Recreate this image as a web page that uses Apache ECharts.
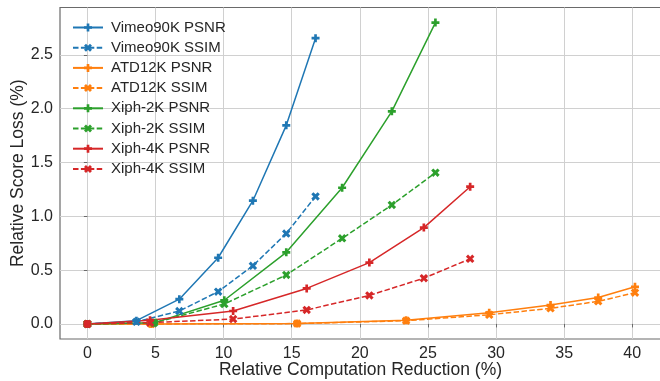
<!DOCTYPE html>
<html>
<head>
<meta charset="utf-8">
<script src="https://cdn.jsdelivr.net/npm/echarts@6/dist/echarts.min.js"></script>
<style>
  html, body { margin: 0; padding: 0; background: #fff; }
  #main { width: 660px; height: 381px; }
</style>
</head>
<body>
<div id="main"></div>
<script>
// x positions (relative computation reduction, %)
var vimeoX = [0, 3.6, 6.75, 9.6, 12.15, 14.6, 16.75];
var atdX   = [0, 4.7, 15.4, 23.4, 29.5, 34.0, 37.5, 40.2];
var xiph2X = [0, 4.9, 10.05, 14.6, 18.7, 22.35, 25.55];
var xiph4X = [0, 4.6, 10.7, 16.1, 20.7, 24.7, 28.1];

// relative score loss (%)
var vimeoPsnr = [0, 0.03, 0.23, 0.615, 1.145, 1.845, 2.655];
var vimeoSsim = [0, 0.02, 0.12, 0.30, 0.54, 0.84, 1.185];
var atdPsnr   = [0, 0.0, 0.005, 0.035, 0.105, 0.175, 0.245, 0.345];
var atdSsim   = [0, 0.0, 0.003, 0.03, 0.085, 0.145, 0.21, 0.29];
var xiph2Psnr = [0, 0.01, 0.22, 0.665, 1.265, 1.975, 2.8];
var xiph2Ssim = [0, 0.01, 0.185, 0.455, 0.795, 1.105, 1.405];
var xiph4Psnr = [0, 0.035, 0.12, 0.33, 0.57, 0.895, 1.275];
var xiph4Ssim = [0, 0.012, 0.045, 0.13, 0.265, 0.425, 0.605];

var xTicks = [0, 5, 10, 15, 20, 25, 30, 35, 40];
var yTicks = [0, 0.5, 1.0, 1.5, 2.0, 2.5];

var FONT = '"Liberation Sans", Arial, sans-serif';
var TXT = '#262626';

// filled plus (matplotlib 'P') and filled x ('X')
var plusPath = 'path://M2,0H4V2H6V4H4V6H2V4H0V2H2Z';
var crossPath = 'path://M4.24,0L5.66,1.41L4.24,2.83L5.66,4.24L4.24,5.66L2.83,4.24L1.41,5.66L0,4.24L1.41,2.83L0,1.41L1.41,0L2.83,1.41Z';

function pairs(xs, ys) {
  var out = [];
  for (var i = 0; i < xs.length; i++) {
    out.push([xs[i], ys[i]]);
  }
  return out;
}

function mkSeries(name, xs, ys, color, dashed) {
  return {
    name: name,
    type: 'line',
    data: pairs(xs, ys),
    symbol: dashed ? crossPath : plusPath,
    symbolSize: dashed ? 8.5 : 8,
    showAllSymbol: true,
    itemStyle: { color: color },
    lineStyle: { color: color, width: 1.5, type: dashed ? [5.5, 2.4] : 'solid' },
    emphasis: { disabled: true },
    animation: false
  };
}

var myChart = echarts.init(document.getElementById('main'));
var option = {
  backgroundColor: '#fff',
  animation: false,
  textStyle: { fontFamily: FONT },
  grid: {
    left: 60, top: 7.5, right: -1, bottom: 42,
    show: true, borderColor: '#6a6a6a', borderWidth: 1.2,
    containLabel: false,
    outerBoundsMode: 'none'
  },
  legend: {
    orient: 'vertical',
    left: 72, top: 20,
    padding: 0,
    itemWidth: 30, itemHeight: 10,
    itemGap: 5.2,
    textStyle: { fontFamily: FONT, fontSize: 15, color: TXT, padding: [0, 0, 0, 3] },
    data: ['Vimeo90K PSNR', 'Vimeo90K SSIM', 'ATD12K PSNR', 'ATD12K SSIM',
           'Xiph-2K PSNR', 'Xiph-2K SSIM', 'Xiph-4K PSNR', 'Xiph-4K SSIM']
  },
  xAxis: {
    type: 'value',
    min: -2.01, max: 42.11,
    name: 'Relative Computation Reduction (%)',
    nameLocation: 'middle',
    nameGap: 22.5,
    nameMoveOverlap: false,
    nameTextStyle: { fontFamily: FONT, fontSize: 17.5, color: TXT },
    axisLine: { show: false },
    axisTick: { show: true, length: 3.5, customValues: xTicks, lineStyle: { color: '#6a6a6a' } },
    axisLabel: { customValues: xTicks, fontSize: 16, color: TXT, margin: 7, fontFamily: FONT },
    splitLine: { show: true, lineStyle: { color: '#d0d0d0', width: 1 } }
  },
  yAxis: {
    type: 'value',
    min: -0.14, max: 2.94,
    name: 'Relative Score Loss (%)',
    nameLocation: 'middle',
    nameGap: 33,
    nameMoveOverlap: false,
    nameTextStyle: { fontFamily: FONT, fontSize: 17.5, color: TXT },
    axisLine: { show: false },
    axisTick: { show: true, length: 3.5, customValues: yTicks, lineStyle: { color: '#6a6a6a' } },
    axisLabel: {
      customValues: yTicks, fontSize: 16, color: TXT, margin: 7, fontFamily: FONT,
      formatter: function (v) { return v.toFixed(1); }
    },
    splitLine: { show: true, lineStyle: { color: '#d0d0d0', width: 1 } }
  },
  series: [
    mkSeries('Vimeo90K PSNR', vimeoX, vimeoPsnr, '#1f77b4', false),
    mkSeries('Vimeo90K SSIM', vimeoX, vimeoSsim, '#1f77b4', true),
    mkSeries('ATD12K PSNR', atdX, atdPsnr, '#ff7f0e', false),
    mkSeries('ATD12K SSIM', atdX, atdSsim, '#ff7f0e', true),
    mkSeries('Xiph-2K PSNR', xiph2X, xiph2Psnr, '#2ca02c', false),
    mkSeries('Xiph-2K SSIM', xiph2X, xiph2Ssim, '#2ca02c', true),
    mkSeries('Xiph-4K PSNR', xiph4X, xiph4Psnr, '#d62728', false),
    mkSeries('Xiph-4K SSIM', xiph4X, xiph4Ssim, '#d62728', true)
  ]
};
myChart.setOption(option);
</script>
</body>
</html>
